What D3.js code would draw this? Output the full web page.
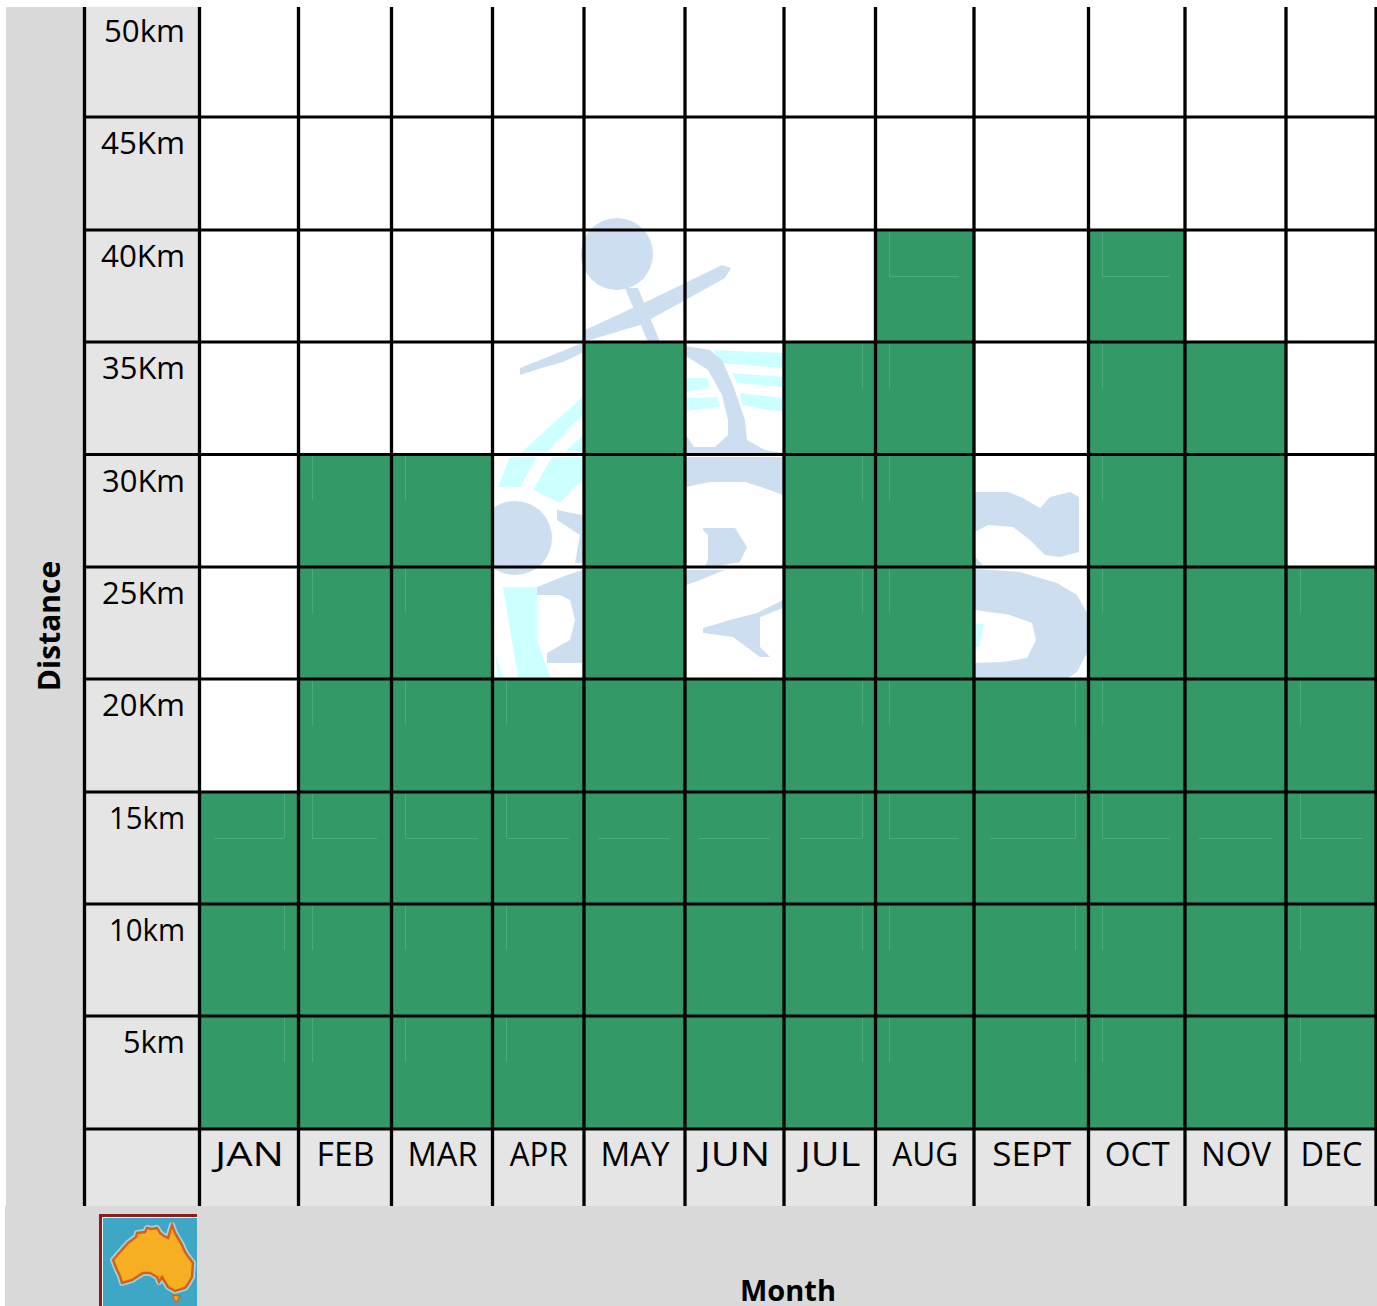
<!DOCTYPE html>
<html>
<head>
<meta charset="utf-8">
<title>Distance by month</title>
<script src="https://cdn.jsdelivr.net/npm/d3@7"></script>
<style>
  html, body { margin: 0; padding: 0; background: #fff; }
  svg { display: block; }
  text { font-family: "Comic Sans MS", "Open Sans", "Noto Sans", sans-serif; fill: #000; }
</style>
</head>
<body>
<div class="canvas"></div>
<script>
// Chart data
const months = ['JAN', 'FEB', 'MAR', 'APR', 'MAY', 'JUN', 'JUL', 'AUG', 'SEPT', 'OCT', 'NOV', 'DEC'];
const distances = [15, 30, 30, 20, 35, 20, 35, 40, 20, 40, 35, 25];
const distanceTicks = [5, 10, 15, 20, 25, 30, 35, 40, 45, 50];
const distanceLabels = ['5km', '10km', '15km', '20Km', '25Km', '30Km', '35Km', '40Km', '45Km', '50km'];

// The table has uneven rows and columns, so the scales are piecewise
const columnEdges = [199.5, 298.5, 391.5, 492.5, 584, 685, 784, 875.5, 974, 1088.5, 1185, 1286, 1376];
const rowEdges = [1129, 1016, 904, 792, 679, 567, 454.5, 342, 230, 117, 5];

// Label widths, the installed font is narrower on some letters than the original
const monthLabelWidths = [69, 58, 70, 58, 69, 70, 60, 66, 79, 65, 70, 62];
const distanceLabelWidths = [62, 76, 76, 83, 83, 83, 83, 84, 84, 81];

// Faint left-over box edges seen inside the green cells (one per month)
const ghostLeft = [214, 312.5, 405.5, 506.5, 598, 699, 800, 889, 990, 1102, 1199, 1300];
const ghostRight = [284, 377, 478, 569, 669.5, 770, 862, 959, 1075, 1170, 1272, 1363];
const ghostEdge = [284, 312.5, 405.5, 506.5, null, null, 862, 889, 1075, 1102, null, 1300];

const dims = {width: 1377, height: 1306, tableLeft: 84.5, tableBottom: 1206};

const x = d3.scaleLinear().domain(d3.range(months.length + 1)).range(columnEdges);
const y = d3.scaleLinear().domain([0, ...distanceTicks]).range(rowEdges);

const svg = d3.select('.canvas')
    .append('svg')
    .attr('width', dims.width)
    .attr('height', dims.height);

// Grey panels behind the table
svg.append('rect').attr('x', 6).attr('y', 7).attr('width', 79).attr('height', 1200).attr('fill', '#d9d9d9');
svg.append('rect').attr('x', 5).attr('y', dims.tableBottom).attr('width', 1372).attr('height', 100).attr('fill', '#d9d9d9');
svg.append('rect').attr('x', dims.tableLeft).attr('y', 7).attr('width', x(0) - dims.tableLeft).attr('height', dims.tableBottom - 7).attr('fill', '#e5e5e5');
svg.append('rect').attr('x', x(0)).attr('y', y(0)).attr('width', x(12) - x(0)).attr('height', dims.tableBottom - y(0)).attr('fill', '#e5e5e5');

// Watermark sitting behind the bars
const blueShapes = [
    'M731,268L722,265L650,300L585,330L583,342L640,325L680,303L725,278Z',
    'M582,343L565,350L520,368L520,375L545,367L563,362L582,353Z',
    'M625,288L638,288L660,342L648,342Z',
    'M557,510L582,515L582,563L575,563L580,535L557,520Z',
    'M537,587L562,577L582,570L582,663L547,663L547,653L570,640L575,620L570,600L560,595L537,595Z',
    'M686,346L710,350L722,360L733,385L745,420L747,440L765,450L783,453L686,453L686,435L694,447L715,447L728,435L728,420L722,395L708,370L686,356Z',
    'M686,457L783,457L783,495L770,490L745,482L710,482L686,487Z',
    'M703,528L735,528L747,547L740,562L713,567L705,566L708,560L708,535L703,530Z',
    'M686,570L725,570L695,582L686,585Z',
    'M703,628L730,620L757,613L783,600L783,608L760,617L760,647L770,657L760,657L733,637L703,633Z',
    'M975,492L1008,492L1023,498L1040,508L1050,497L1070,492L1079,497L1079,552L1060,557L1045,555L1030,540L1013,527L988,525L975,532Z',
    'M975,557L983,565L975,565Z',
    'M975,569L1020,572L1057,583L1077,595L1087,613L1087,653L1077,672L1068,678L975,678L975,663L1003,662L1027,658L1036,640L1032,623L1010,615L975,610Z'
];
const cyanShapes = [
    'M582,397L522,452L547,452L582,415Z',
    'M582,436L565,452L582,452Z',
    'M510,457L537,457L520,487L498,487Z',
    'M552,457L582,457L582,480L560,503L533,490Z',
    'M503,587L537,587L537,640L550,677L518,677Z',
    'M495,653L503,677L498,677Z',
    'M713,350L783,353L783,368L723,363Z',
    'M732,373L783,377L783,387L737,383Z',
    'M740,393L783,398L783,411L767,410L742,405Z',
    'M687,378L707,378L710,387L687,392Z',
    'M687,398L717,397L720,407L687,411Z',
    'M975,624L984,624L979,647L975,647Z'
];
const watermark = svg.append('g');
watermark.selectAll('path.cyan').data(cyanShapes).enter().append('path')
    .attr('class', 'cyan').attr('d', d => d).attr('fill', '#ccffff');
watermark.selectAll('path.blue').data(blueShapes).enter().append('path')
    .attr('class', 'blue').attr('d', d => d).attr('fill', '#cddef0');
watermark.append('circle').attr('cx', 617).attr('cy', 254).attr('r', 36).attr('fill', '#cddef0');
// disc is cut off by the column line on its left
svg.append('clipPath').attr('id', 'aprClip').append('rect').attr('x', x(3)).attr('y', y(30)).attr('width', x(4) - x(3)).attr('height', y(0) - y(30));
watermark.append('circle').attr('cx', 515).attr('cy', 538).attr('r', 37).attr('fill', '#cddef0').attr('clip-path', 'url(#aprClip)');

// Bars
svg.append('g').selectAll('rect')
    .data(distances)
    .enter().append('rect')
    .attr('x', (d, i) => x(i))
    .attr('y', d => y(d))
    .attr('width', (d, i) => x(i + 1) - x(i))
    .attr('height', d => y(0) - y(d))
    .attr('fill', '#339966');

// Faint edges inside the green cells
const ghosts = svg.append('g').attr('stroke', '#4fa97f').attr('stroke-width', 1);
distances.forEach((d, i) => {
    // vertical stub at the top of every filled row
    if (ghostEdge[i] !== null) {
        distanceTicks.filter(t => t <= d).forEach(t => {
            ghosts.append('line')
                .attr('x1', Math.floor(ghostEdge[i]) + 0.5).attr('x2', Math.floor(ghostEdge[i]) + 0.5)
                .attr('y1', y(t) + 2).attr('y2', y(t) + 46);
        });
    }
    // horizontal edge only in the 15km row and in the 40km row
    [15, 40].filter(t => t <= d).forEach(t => {
        ghosts.append('line')
            .attr('x1', ghostLeft[i]).attr('x2', ghostRight[i])
            .attr('y1', Math.floor(y(t)) + 46.5).attr('y2', Math.floor(y(t)) + 46.5);
    });
});

// Grid lines
const grid = svg.append('g').attr('stroke', '#000').attr('fill', 'none');
grid.selectAll('line.row').data([0, ...distanceTicks.slice(0, -1)]).enter().append('line')
    .attr('class', 'row')
    .attr('x1', dims.tableLeft).attr('x2', x(12))
    .attr('y1', d => y(d)).attr('y2', d => y(d))
    .attr('stroke-width', 3);
grid.selectAll('line.col').data(d3.range(months.length + 1)).enter().append('line')
    .attr('class', 'col')
    .attr('x1', d => x(d)).attr('x2', d => x(d))
    .attr('y1', 7).attr('y2', dims.tableBottom)
    .attr('stroke-width', 3.3);
grid.append('line').attr('x1', dims.tableLeft).attr('x2', dims.tableLeft)
    .attr('y1', 7).attr('y2', dims.tableBottom).attr('stroke-width', 3.3);

// Distance labels, hung from the top of each row
const yAxis = d3.axisLeft(y)
    .tickValues(distanceTicks)
    .tickSize(0)
    .tickPadding(0)
    .tickFormat((d, i) => distanceLabels[i]);
svg.append('g')
    .attr('transform', 'translate(185,0)')
    .call(yAxis)
    .call(g => g.select('.domain').remove())
    .selectAll('text')
    .attr('font-size', 31)
    .attr('dy', 36.5)
    .attr('textLength', (d, i) => distanceLabelWidths[i])
    .attr('lengthAdjust', 'spacingAndGlyphs');

// Month labels
const xAxis = d3.axisBottom(d3.scaleOrdinal().domain(months).range(months.map((m, i) => (x(i) + x(i + 1)) / 2)))
    .tickSize(0)
    .tickPadding(0);
svg.append('g')
    .attr('transform', 'translate(0,1166)')
    .call(xAxis)
    .call(g => g.select('.domain').remove())
    .selectAll('text')
    .attr('font-size', 32)
    .attr('dy', 0)
    .attr('textLength', (d, i) => monthLabelWidths[i])
    .attr('lengthAdjust', 'spacingAndGlyphs');

// Axis titles
svg.append('text')
    .attr('transform', 'translate(60,626) rotate(-90)')
    .attr('text-anchor', 'middle')
    .attr('font-weight', 'bold')
    .attr('font-size', 30)
    .text('Distance');
svg.append('text')
    .attr('x', 788).attr('y', 1301)
    .attr('text-anchor', 'middle')
    .attr('font-weight', 'bold')
    .attr('font-size', 29)
    .text('Month');

// Little map of Australia in the corner
const map = svg.append('g');
map.append('rect').attr('x', 99).attr('y', 1214).attr('width', 98).attr('height', 92).attr('fill', '#8e1b17');
map.append('rect').attr('x', 102).attr('y', 1217).attr('width', 95).attr('height', 89).attr('fill', '#fff');
map.append('rect').attr('x', 103).attr('y', 1218).attr('width', 94).attr('height', 88).attr('fill', '#3fa7c6');
const mainland = 'M113,1260L120,1252L128,1243L136,1237L137,1233L145,1232L147,1228L152,1229L157,1228L160,1233L164,1236L168,1238L172,1225L175,1233L178,1238L182,1245L185,1252L187,1255L193,1263L192,1277L188,1284L185,1288L175,1291L168,1287L162,1277L159,1282L157,1277L150,1273L143,1273L132,1280L122,1283L120,1276L117,1270Z';
const tasmania = 'M173,1295L180,1296L177,1302L174,1300Z';
map.append('path').attr('d', mainland).attr('fill', '#9fd3df').attr('stroke', '#9fd3df').attr('stroke-width', 6).attr('stroke-linejoin', 'round');
map.append('path').attr('d', mainland).attr('fill', '#f6ae22').attr('stroke', '#d9601a').attr('stroke-width', 2.5);
map.append('path').attr('d', tasmania).attr('fill', '#f6ae22').attr('stroke', '#d9601a').attr('stroke-width', 1.5);
</script>
</body>
</html>
